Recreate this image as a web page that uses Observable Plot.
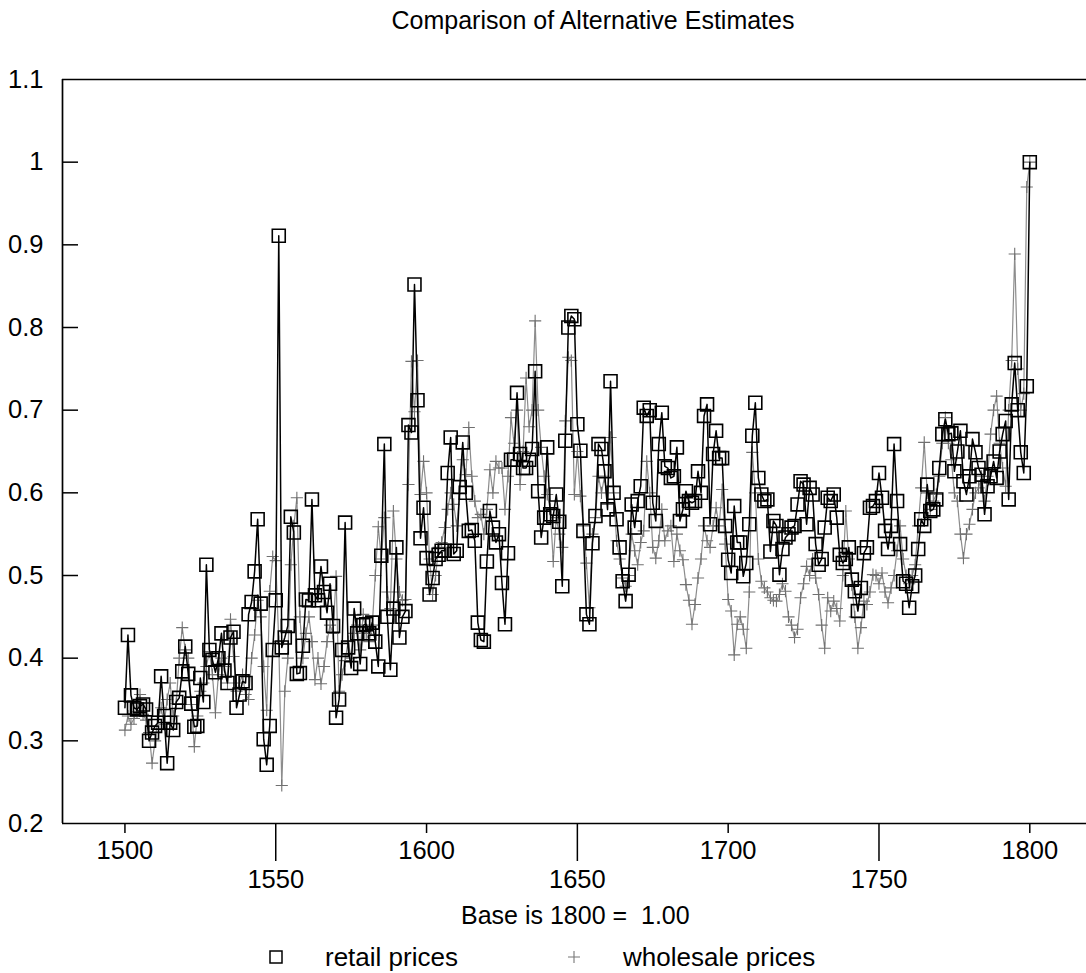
<!DOCTYPE html>
<html>
<head>
<meta charset="utf-8">
<script src="https://cdn.jsdelivr.net/npm/d3@7"></script>
<script src="https://cdn.jsdelivr.net/npm/@observablehq/plot@0.6"></script>
<style>
  html, body { margin: 0; padding: 0; background: #fff; }
  body { font-family: "Liberation Sans", Arial, Helvetica, sans-serif; color: #000; }
  #wrap { position: relative; width: 1086px; height: 973px; overflow: hidden; }
  #title { position: absolute; top: 0; left: 0; width: 1186px; text-align: center; font-size: 25px; line-height: 40px; }
  #chart { position: absolute; top: 40px; left: 0; }
  #caption { position: absolute; top: 900px; left: 461px; font-size: 25px; line-height: 30px; white-space: pre; }
  .lg { position: absolute; top: 942px; font-size: 26px; line-height: 30px; white-space: pre; }
  .sym { position: absolute; }
</style>
</head>
<body>
<div id="wrap">
  <div id="title">Comparison of Alternative Estimates</div>
  <div id="chart"></div>
  <div id="caption">Base is 1800 =  1.00</div>
  <svg class="sym" style="left:268px;top:949px" width="16" height="16"><rect x="2" y="2" width="12" height="12" fill="none" stroke="#000" stroke-width="1.5"/></svg>
  <div class="lg" style="left:325px">retail prices</div>
  <svg class="sym" style="left:566px;top:949px" width="16" height="16"><path d="M2,8H14M8,2V14" fill="none" stroke="#777" stroke-width="1.1"/></svg>
  <div class="lg" style="left:623px">wholesale prices</div>
</div>
<script>
// Annual series, 1500 .. 1800 (base 1800 = 1.00)
const startYear = 1500;

const retail = [
  0.34, 0.428, 0.355, 0.34, 0.338, 0.342, 0.344, 0.338, 0.30, 0.31,
  0.318, 0.322, 0.378, 0.33, 0.273, 0.322, 0.313, 0.347, 0.352, 0.384,
  0.414, 0.381, 0.345, 0.317, 0.318, 0.376, 0.347, 0.513, 0.41, 0.398,
  0.383, 0.40, 0.43, 0.385, 0.37, 0.425, 0.432, 0.34, 0.356, 0.372,
  0.37, 0.453, 0.468, 0.505, 0.568, 0.466, 0.302, 0.271, 0.318, 0.41,
  0.47, 0.911, 0.413, 0.425, 0.439, 0.571, 0.552, 0.381, 0.382, 0.415,
  0.471, 0.47, 0.592, 0.476, 0.47, 0.511, 0.48, 0.455, 0.49, 0.439,
  0.328, 0.35, 0.41, 0.564, 0.413, 0.388, 0.46, 0.43, 0.393, 0.44,
  0.441, 0.43, 0.443, 0.42, 0.39, 0.524, 0.659, 0.45, 0.386, 0.46,
  0.534, 0.425, 0.45, 0.457, 0.682, 0.673, 0.852, 0.712, 0.545, 0.582,
  0.521, 0.477, 0.497, 0.52, 0.525, 0.53, 0.53, 0.624, 0.667, 0.526,
  0.53, 0.607, 0.661, 0.60, 0.554, 0.555, 0.542, 0.443, 0.422, 0.42,
  0.517, 0.578, 0.558, 0.54, 0.55, 0.491, 0.441, 0.527, 0.64, 0.64,
  0.721, 0.647, 0.63, 0.63, 0.64, 0.653, 0.747, 0.602, 0.546, 0.57,
  0.655, 0.574, 0.572, 0.598, 0.565, 0.487, 0.663, 0.80, 0.814, 0.81,
  0.683, 0.651, 0.554, 0.453, 0.441, 0.539, 0.572, 0.659, 0.653, 0.626,
  0.58, 0.735, 0.60, 0.568, 0.534, 0.493, 0.469, 0.501, 0.586, 0.558,
  0.59, 0.608, 0.703, 0.693, 0.70, 0.588, 0.566, 0.659, 0.697, 0.632,
  0.63, 0.618, 0.62, 0.655, 0.566, 0.58, 0.602, 0.59, 0.588, 0.59,
  0.626, 0.60, 0.693, 0.707, 0.562, 0.647, 0.675, 0.642, 0.642, 0.56,
  0.519, 0.503, 0.584, 0.54, 0.54, 0.499, 0.515, 0.562, 0.669, 0.709,
  0.618, 0.598, 0.59, 0.592, 0.529, 0.566, 0.56, 0.501, 0.532, 0.546,
  0.55, 0.558, 0.56, 0.586, 0.614, 0.61, 0.562, 0.606, 0.598, 0.538,
  0.513, 0.52, 0.558, 0.594, 0.59, 0.598, 0.57, 0.525, 0.515, 0.52,
  0.534, 0.495, 0.481, 0.457, 0.485, 0.527, 0.534, 0.582, 0.584, 0.59,
  0.624, 0.594, 0.554, 0.532, 0.56, 0.659, 0.59, 0.538, 0.493, 0.49,
  0.461, 0.487, 0.50, 0.532, 0.568, 0.56, 0.61, 0.578, 0.58, 0.592,
  0.63, 0.671, 0.689, 0.671, 0.672, 0.626, 0.65, 0.675, 0.614, 0.598,
  0.62, 0.665, 0.649, 0.63, 0.622, 0.574, 0.608, 0.62, 0.638, 0.618,
  0.65, 0.671, 0.687, 0.592, 0.707, 0.757, 0.70, 0.649, 0.624, 0.729,
  1.0
];

const wholesale = [
  0.313, 0.33, 0.32, 0.327, 0.335, 0.356, 0.332, 0.325, 0.31, 0.273,
  0.30, 0.33, 0.34, 0.32, 0.35, 0.37, 0.33, 0.345, 0.40, 0.437,
  0.41, 0.40, 0.344, 0.293, 0.33, 0.36, 0.37, 0.39, 0.408, 0.38,
  0.334, 0.38, 0.40, 0.39, 0.37, 0.447, 0.402, 0.36, 0.37, 0.38,
  0.356, 0.35, 0.40, 0.428, 0.47, 0.45, 0.39, 0.337, 0.481, 0.523,
  0.518, 0.42, 0.246, 0.36, 0.40, 0.513, 0.56, 0.594, 0.45, 0.40,
  0.43, 0.45, 0.42, 0.374, 0.40, 0.369, 0.39, 0.42, 0.44, 0.43,
  0.499, 0.36, 0.38, 0.397, 0.42, 0.40, 0.43, 0.44, 0.41, 0.453,
  0.43, 0.42, 0.44, 0.50, 0.559, 0.52, 0.57, 0.48, 0.46, 0.578,
  0.52, 0.48, 0.47, 0.471, 0.61, 0.759, 0.698, 0.76, 0.598, 0.638,
  0.60, 0.52, 0.477, 0.50, 0.534, 0.54, 0.558, 0.58, 0.60, 0.586,
  0.56, 0.60, 0.64, 0.622, 0.679, 0.62, 0.59, 0.57, 0.574, 0.55,
  0.58, 0.628, 0.60, 0.638, 0.63, 0.63, 0.58, 0.62, 0.691, 0.66,
  0.70, 0.61, 0.65, 0.739, 0.68, 0.70, 0.808, 0.70, 0.655, 0.62,
  0.598, 0.58, 0.517, 0.57, 0.55, 0.534, 0.687, 0.764, 0.76, 0.598,
  0.65, 0.596, 0.56, 0.515, 0.461, 0.55, 0.57, 0.62, 0.60, 0.62,
  0.586, 0.667, 0.60, 0.542, 0.52, 0.497, 0.487, 0.50, 0.55, 0.53,
  0.513, 0.54, 0.554, 0.638, 0.60, 0.534, 0.521, 0.542, 0.58, 0.542,
  0.554, 0.56, 0.517, 0.55, 0.53, 0.519, 0.489, 0.47, 0.441, 0.465,
  0.497, 0.52, 0.56, 0.542, 0.534, 0.56, 0.582, 0.56, 0.604, 0.538,
  0.471, 0.457, 0.404, 0.441, 0.45, 0.435, 0.412, 0.48, 0.649, 0.60,
  0.52, 0.493, 0.485, 0.48, 0.473, 0.47, 0.469, 0.477, 0.49, 0.481,
  0.45, 0.44, 0.425, 0.435, 0.473, 0.49, 0.511, 0.50, 0.52, 0.497,
  0.477, 0.44, 0.412, 0.473, 0.457, 0.469, 0.46, 0.445, 0.50, 0.578,
  0.52, 0.489, 0.45, 0.412, 0.437, 0.469, 0.465, 0.48, 0.501, 0.50,
  0.49, 0.503, 0.48, 0.467, 0.485, 0.50, 0.53, 0.56, 0.52, 0.50,
  0.49, 0.50, 0.513, 0.56, 0.606, 0.661, 0.60, 0.58, 0.59, 0.598,
  0.62, 0.66, 0.691, 0.66, 0.64, 0.60, 0.59, 0.55, 0.521, 0.55,
  0.562, 0.58, 0.60, 0.606, 0.62, 0.59, 0.62, 0.671, 0.70, 0.717,
  0.66, 0.63, 0.608, 0.70, 0.76, 0.889, 0.75, 0.70, 0.72, 0.97,
  1.0
];

const yTicks = [1.1, 1, 0.9, 0.8, 0.7, 0.6, 0.5, 0.4, 0.3, 0.2];
const yInnerTicks = [1, 0.9, 0.8, 0.7, 0.6, 0.5, 0.4, 0.3];
const xTicksNear = [1500, 1600, 1700, 1800];
const xTicksFar = [1550, 1650, 1750];
const xDomain = [1479.3, 1818.8];
const yDomain = [0.2, 1.1];

const retailData = retail.map((v, i) => ({year: startYear + i, value: v}));
const wholesaleData = wholesale.map((v, i) => ({year: startYear + i, value: v}));

const W = 1086, ML = 62, MR = 0, MT = 39, MB = 68, PH = 744;

const chart = Plot.plot({
  width: W,
  height: MT + PH + MB,
  marginTop: MT, marginBottom: MB, marginLeft: ML, marginRight: MR,
  style: {fontFamily: '"Liberation Sans", Arial, Helvetica, sans-serif', fontSize: "25.5px", color: "#000", background: "transparent", overflow: "visible"},
  x: {domain: xDomain},
  y: {domain: yDomain},
  marks: [
    Plot.line(wholesaleData, {x: "year", y: "value", stroke: "#8c8c8c", strokeWidth: 1.2}),
    Plot.dot(wholesaleData, {x: "year", y: "value", symbol: "plus", r: 4, stroke: "#707070", strokeWidth: 1.1}),
    Plot.line(retailData, {x: "year", y: "value", stroke: "#000", strokeWidth: 1.5}),
    Plot.dot(retailData, {x: "year", y: "value", symbol: "square", r: 7.3, stroke: "#000", strokeWidth: 1.6, fill: "none"}),
    Plot.ruleY([yDomain[1], yDomain[0]], {stroke: "#000", strokeWidth: 1.7}),
    Plot.ruleX([xDomain[0]], {stroke: "#000", strokeWidth: 1.7}),
    Plot.tickY(yInnerTicks, {y: d => d, insetRight: (W - ML - MR) - 16, stroke: "#000", strokeWidth: 1.5}),
    Plot.axisY(yTicks, {tickSize: 0, tickPadding: 19, tickFormat: d => String(d), label: null, fontSize: 25.5}),
    Plot.axisX(xTicksNear, {tickSize: 10, tickPadding: 7, tickFormat: d => String(d), label: null, strokeWidth: 1.5, fontSize: 25.5}),
    Plot.axisX(xTicksFar, {tickSize: 38, tickPadding: 8, tickFormat: d => String(d), label: null, strokeWidth: 1.5, fontSize: 25.5})
  ]
});
document.getElementById("chart").appendChild(chart);
</script>
</body>
</html>
